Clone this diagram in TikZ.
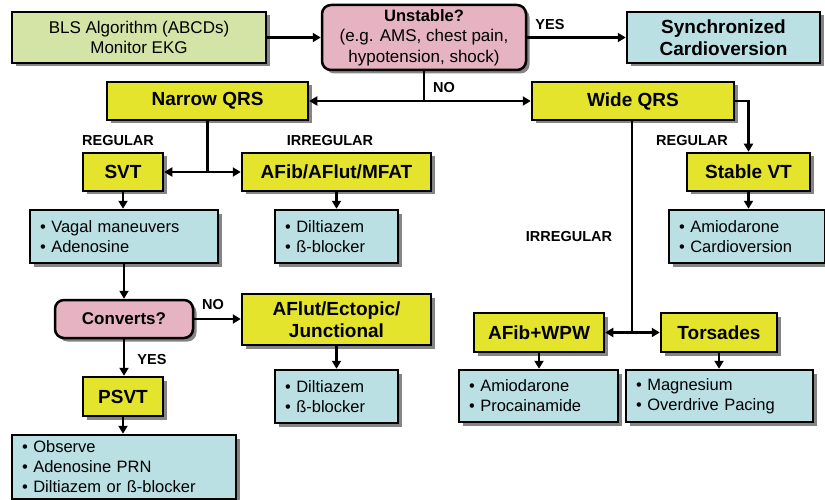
\documentclass[tikz,border=0pt]{standalone}
\usepackage{fontspec}
\setmainfont{Liberation Sans}
\usetikzlibrary{shadows,arrows.meta,calc}
\definecolor{cgreen}{RGB}{211,228,166}
\definecolor{cpink}{RGB}{229,179,193}
\definecolor{cyel}{RGB}{228,228,44}
\definecolor{cblue}{RGB}{186,224,228}
\tikzset{
  box/.style={draw=black, line width=2.5pt, inner sep=0pt, align=center,
    drop shadow={shadow xshift=3.5pt, shadow yshift=-3.5pt, fill=black!60, opacity=0.8}},
  ybox/.style={box, fill=cyel, font=\fontsize{19}{22}\selectfont\bfseries},
  pbox/.style={box, fill=cpink, rounded corners=9pt},
  lbox/.style={box, fill=cblue, align=left, inner xsep=10pt, font=\fontsize{16.5}{20}\selectfont},
  lab/.style={font=\fontsize{14.5}{16}\selectfont\bfseries, inner sep=0pt},
  ln/.style={line width=2.4pt},
  arr/.style={line width=2.4pt, -{Triangle[length=8pt,width=9pt]}},
}
\begin{document}
\begin{tikzpicture}[x=1pt,y=-1pt]
\useasboundingbox (0,0) rectangle (825,500);
% top row
\node[box, fill=cgreen, minimum width=254pt, minimum height=51pt, font=\fontsize{17}{20.5}\selectfont] (bls) at (139,37.5) {BLS Algorithm (ABCDs)\\Monitor EKG};
\node[pbox, minimum width=204pt, minimum height=65pt, font=\fontsize{17}{20.5}\selectfont] (unstable) at (424,37.5) {{\fontsize{16.5}{20}\selectfont\bfseries Unstable?}\\(e.g. AMS, chest pain,\\hypotension, shock)};
\node[box, fill=cblue, minimum width=193pt, minimum height=51pt, font=\fontsize{19}{21.5}\selectfont\bfseries] (sync) at (723.5,37.5) {Synchronized\\Cardioversion};
% second row
\node[ybox, minimum width=201pt, minimum height=38pt] (narrow) at (207.5,101) {Narrow QRS};
\node[ybox, minimum width=202pt, minimum height=38pt] (wide) at (633,101) {Wide QRS};
% third row
\node[ybox, minimum width=80pt, minimum height=38pt] (svt) at (123,172) {SVT};
\node[ybox, minimum width=189pt, minimum height=38pt] (afib) at (336.5,172) {AFib/AFlut/MFAT};
\node[ybox, minimum width=123pt, minimum height=38pt] (stablevt) at (748.5,172) {Stable VT};
% lists
\node[lbox, text width=168pt, minimum height=53pt] (vagal) at (124,236.5) {• Vagal maneuvers\\• Adenosine};
\node[lbox, text width=103pt, minimum height=53pt] (dilt1) at (336.5,236.5) {• Diltiazem\\• ß-blocker};
\node[lbox, text width=136pt, minimum height=53pt] (amio1) at (747,236.5) {• Amiodarone\\• Cardioversion};
% converts row
\node[pbox, minimum width=138pt, minimum height=38pt, font=\fontsize{17}{20}\selectfont\bfseries] (converts) at (124,319) {Converts?};
\node[ybox, minimum width=189pt, minimum height=51pt, font=\fontsize{19}{21.5}\selectfont\bfseries] (aflut) at (336.5,319.5) {AFlut/Ectopic/\\Junctional};
\node[ybox, minimum width=130pt, minimum height=39pt] (afibwpw) at (539,332.5) {AFib+WPW};
\node[ybox, minimum width=116pt, minimum height=39pt] (torsades) at (719,332.5) {Torsades};
% lower lists
\node[lbox, text width=103pt, minimum height=53pt] (dilt2) at (336.5,396.5) {• Diltiazem\\• ß-blocker};
\node[ybox, minimum width=80pt, minimum height=39pt] (psvt) at (123,396.5) {PSVT};
\node[lbox, text width=139pt, minimum height=52pt] (amio2) at (538.5,396) {• Amiodarone\\• Procainamide};
\node[lbox, text width=167pt, minimum height=52pt] (magn) at (719.5,396) {• Magnesium\\• Overdrive Pacing};
\node[lbox, text width=204pt, minimum height=64pt] (observe) at (124,467) {• Observe\\• Adenosine PRN\\• Diltiazem or ß-blocker};
% labels
\node[lab] (lyes1) at (550,25) {YES};
\node[lab] (lno1) at (444,88) {NO};
\node[lab] (lreg1) at (118,141) {REGULAR};
\node[lab] (lirr1) at (330,141) {IRREGULAR};
\node[lab] (lreg2) at (692,141) {REGULAR};
\node[lab] (lirr2) at (569,237) {IRREGULAR};
\node[lab] (lno2) at (213,305) {NO};
\node[lab] (lyes2) at (152,360) {YES};
% connectors
\draw[arr] (bls.east) -- (unstable.west |- bls.east);
\draw[arr] (unstable.east |- sync.west) -- (sync.west);
\coordinate (j1) at (unstable.south |- narrow.east);
\draw[ln] (unstable.south) -- (j1);
\draw[arr] (j1) -- (narrow.east);
\draw[arr] (j1) -- (wide.west);
\coordinate (j2) at (narrow.south |- svt.east);
\draw[ln] (narrow.south) -- (j2);
\draw[arr] (j2) -- (svt.east);
\draw[arr] (j2) -- (afib.west);
\draw[arr] (wide.east) -| (stablevt.north);
\draw[arr] (stablevt.south) -- (stablevt.south |- amio1.north);
\coordinate (j3) at ($(wide.south |- afibwpw.east)+(-1,0)$);
\draw[ln] (wide.south -| j3) -- (j3);
\draw[arr] (j3) -- (afibwpw.east);
\draw[arr] (j3) -- (torsades.west);
\draw[arr] (svt.south) -- (svt.south |- vagal.north);
\draw[arr] (afib.south) -- (dilt1.north);
\draw[arr] (vagal.south) -- (converts.north);
\draw[arr] (converts.east) -- (converts.east -| aflut.west);
\draw[arr] (aflut.south) -- (dilt2.north);
\draw[arr] (converts.south) -- (converts.south |- psvt.north);
\draw[arr] (psvt.south) -- (psvt.south |- observe.north);
\draw[arr] (afibwpw.south) -- (afibwpw.south |- amio2.north);
\draw[arr] (torsades.south) -- (torsades.south |- magn.north);
\end{tikzpicture}
\end{document}
